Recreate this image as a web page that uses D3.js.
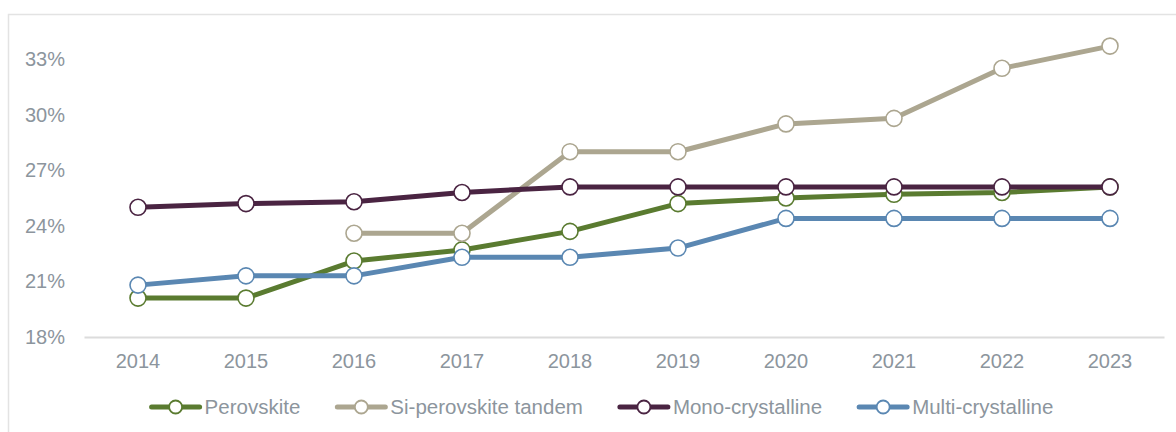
<!DOCTYPE html>
<html>
<head>
<meta charset="utf-8">
<script src="https://cdn.jsdelivr.net/npm/d3@7"></script>
<style>
  body { margin: 0; background: #fff; }
  svg { display: block; font-family: "Liberation Sans", Arial, sans-serif; }
</style>
</head>
<body>
<div id="chart"></div>
<script>
// data
const years = [2014, 2015, 2016, 2017, 2018, 2019, 2020, 2021, 2022, 2023];
const perovskite = [20.1, 20.1, 22.1, 22.7, 23.7, 25.2, 25.5, 25.7, 25.8, 26.1];
const tandem = [null, null, 23.6, 23.6, 28.0, 28.0, 29.5, 29.8, 32.5, 33.7];
const mono = [25.0, 25.2, 25.3, 25.8, 26.1, 26.1, 26.1, 26.1, 26.1, 26.1];
const multi = [20.8, 21.3, 21.3, 22.3, 22.3, 22.8, 24.4, 24.4, 24.4, 24.4];
const yTicks = [18, 21, 24, 27, 30, 33];
const seriesNames = ["Perovskite", "Si-perovskite tandem", "Mono-crystalline", "Multi-crystalline"];

function chart() {
  const W = 1176, H = 432;
  const colors = ["#5a7b30", "#aca690", "#4a2442", "#5a87b2"];
  const seriesVals = [perovskite, tandem, mono, multi];
  const textColor = "#8c959d";

  const svg = d3.select("#chart").append("svg")
    .attr("width", W)
    .attr("height", H);

  // 外枠
  svg.append("rect")
    .attr("x", 8.5).attr("y", 14.5)
    .attr("width", W + 10).attr("height", H + 10)
    .attr("fill", "none")
    .attr("stroke", "#e3e3e3")
    .attr("stroke-width", 1.5);

  const x = d3.scaleBand().domain(years).range([84, 1164]);
  const y = d3.scaleLinear().domain([18, 35]).range([337, 22]);

  // x軸
  const xAxis = svg.append("g")
    .attr("transform", "translate(0,337)")
    .call(d3.axisBottom(x).tickSize(0).tickPadding(18));
  xAxis.select(".domain").attr("stroke", "#dcdcdc").attr("stroke-width", 2);
  xAxis.selectAll("text")
    .attr("fill", textColor)
    .style("font-size", "20px")
    .attr("dy", "0.32em")
    .attr("y", 25);

  // y軸ラベル
  const yAxis = svg.append("g")
    .attr("transform", "translate(65,0)")
    .call(d3.axisLeft(y).tickValues(yTicks).tickFormat(d => d + "%").tickSize(0).tickPadding(0));
  yAxis.select(".domain").remove();
  yAxis.selectAll("text")
    .attr("fill", textColor)
    .style("font-size", "20px");

  const line = d3.line()
    .defined(d => d.v != null)
    .x(d => x(d.year) + x.bandwidth() / 2)
    .y(d => y(d.v));

  seriesVals.forEach((vals, i) => {
    const pts = years.map((yr, j) => ({ year: yr, v: vals[j] }));
    const g = svg.append("g");
    g.append("path")
      .datum(pts)
      .attr("d", line)
      .attr("fill", "none")
      .attr("stroke", colors[i])
      .attr("stroke-width", 5)
      .attr("stroke-linejoin", "round");
    g.selectAll("circle")
      .data(pts.filter(d => d.v != null))
      .enter()
      .append("circle")
      .attr("cx", d => x(d.year) + x.bandwidth() / 2)
      .attr("cy", d => y(d.v))
      .attr("r", 8)
      .attr("fill", "#fff")
      .attr("stroke", colors[i])
      .attr("stroke-width", 1.6);
  });

  // 凡例
  const legend = svg.append("g");
  const items = seriesNames.map((name, i) => {
    const g = legend.append("g");
    g.append("line")
      .attr("x1", 0).attr("x2", 48)
      .attr("y1", 0).attr("y2", 0)
      .attr("stroke", colors[i])
      .attr("stroke-width", 5)
      .attr("stroke-linecap", "round");
    g.append("circle")
      .attr("cx", 24).attr("cy", 0).attr("r", 6.5)
      .attr("fill", "#fff")
      .attr("stroke", colors[i])
      .attr("stroke-width", 1.8);
    const t = g.append("text")
      .attr("x", 53).attr("dy", "0.35em")
      .attr("fill", textColor)
      .style("font-size", "20.5px")
      .text(name);
    return { g, w: 53 + t.node().getComputedTextLength() };
  });
  const gap = 37;
  const total = d3.sum(items, d => d.w) + gap * (items.length - 1);
  let cx = 602.5 - total / 2;
  items.forEach(it => {
    it.g.attr("transform", `translate(${cx},407)`);
    cx += it.w + gap;
  });
}
chart();
</script>
</body>
</html>
